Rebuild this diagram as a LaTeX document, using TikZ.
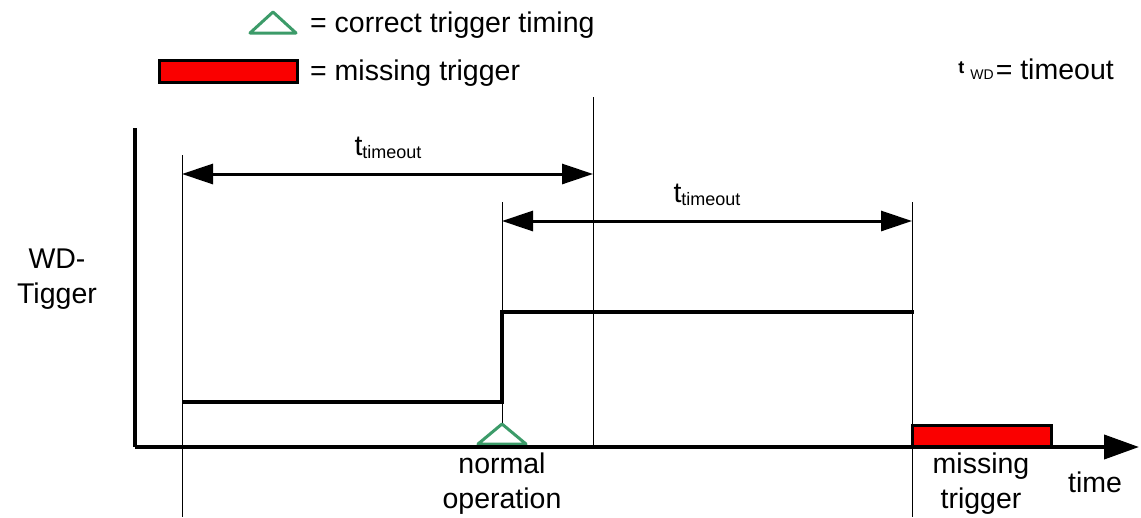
\documentclass[tikz,border=0pt]{standalone}
\usepackage{fontspec}
\setmainfont{Liberation Sans}
\usetikzlibrary{arrows.meta}
\definecolor{triggerGreen}{RGB}{60,155,105}
\definecolor{missingRed}{RGB}{250,0,0}

\begin{document}
\begin{tikzpicture}[x = 1pt, y = -1pt,
    every node/.style = {inner sep = 0pt, font = \fontsize{28.5}{35}\selectfont},
    thinLine/.style = {line width = 1pt},
    axisLine/.style = {line width = 4pt},
    signalLine/.style = {line width = 3.5pt, line join = miter},
    timeoutArrow/.style = {line width = 3pt, {Triangle[length = 31pt, width = 20pt]}-{Triangle[length = 31pt, width = 20pt]}},
    okMark/.style = {draw = triggerGreen, line width = 3pt, line join = round},
    missMark/.style = {draw = black, fill = missingRed, line width = 3pt}]
    \useasboundingbox (0,0) rectangle (1141,517);

    % legend
    \draw[okMark] (250,33) -- (273,12) -- (296,33) -- cycle;
    \node[anchor = base west](legendOk) at (310,32) {= correct trigger timing};
    \draw[missMark] (159,60) rectangle (297,82);
    \node[anchor = base west](legendMiss) at (310,80) {= missing trigger};
    \node[anchor = base east](legendWD) at (1114,79) {\raisebox{6pt}{\fontsize{18}{18}\selectfont\bfseries t}\hspace{6pt}{\fontsize{14}{14}\selectfont WD}\hspace{2pt}= timeout};

    % time marks
    \coordinate (startTop) at (182,155);
    \coordinate (startBottom) at (182,517);
    \coordinate (okTop) at (502,202);
    \coordinate (okBottom) at (502,425);
    \coordinate (endOneTop) at (593,97);
    \coordinate (endOneBottom) at (593,447);
    \coordinate (endTwoTop) at (912,202);
    \coordinate (endTwoBottom) at (912,517);
    \draw[thinLine] (startTop) -- (startBottom);
    \draw[thinLine] (okTop) -- (okBottom);
    \draw[thinLine] (endOneTop) -- (endOneBottom);
    \draw[thinLine] (endTwoTop) -- (endTwoBottom);

    % timeouts
    \coordinate (arrowOneLeft) at (182,174);
    \coordinate (arrowOneRight) at (593,174);
    \coordinate (arrowTwoLeft) at (502,221);
    \coordinate (arrowTwoRight) at (912,221);
    \draw[timeoutArrow] (arrowOneLeft) -- (arrowOneRight);
    \draw[timeoutArrow] (arrowTwoLeft) -- (arrowTwoRight);
    \node[anchor = base](timeoutOne) at (388,155) {t\raisebox{-3pt}{\fontsize{18}{18}\selectfont timeout}};
    \node[anchor = base](timeoutTwo) at (707,202) {t\raisebox{-3pt}{\fontsize{18}{18}\selectfont timeout}};

    % signal
    \coordinate (sigStart) at (182,402);
    \coordinate (stepLow) at (502,402);
    \coordinate (stepHigh) at (502,312);
    \coordinate (sigEnd) at (914,312);
    \draw[signalLine] (sigStart) -- (stepLow) -- (stepHigh) -- (sigEnd);

    % triggers
    \draw[okMark] (478,444) -- (502,424) -- (526,444) -- cycle;
    \draw[missMark] (912,425) rectangle (1051,446);

    % axes
    \coordinate (origin) at (135,447);
    \coordinate (yTop) at (135,128);
    \coordinate (xEnd) at (1139,447);
    \draw[axisLine] (yTop) -- (origin);
    \draw[axisLine, -{Triangle[length = 35pt, width = 24pt]}] (origin) -- (xEnd);

    % labels
    \node[align = center, anchor = base](yLabel) at (57,303) {WD-\\Tigger};
    \node[align = center, anchor = base](normalLabel) at (502,508) {normal\\operation};
    \node[align = center, anchor = base](missingLabel) at (981,508) {missing\\trigger};
    \node[anchor = base](timeLabel) at (1095,492) {time};
\end{tikzpicture}
\end{document}
